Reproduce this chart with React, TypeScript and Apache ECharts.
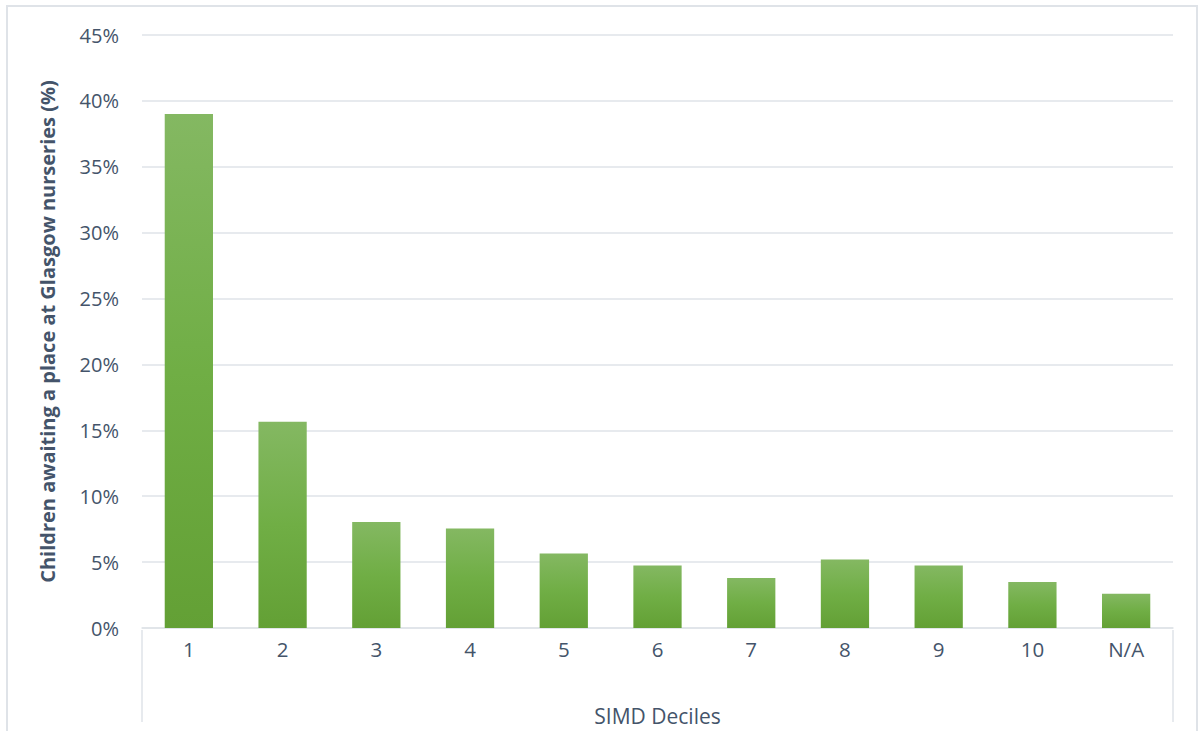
import React, { useEffect, useRef } from "react";
import * as echarts from "echarts";

const categories = ["1", "2", "3", "4", "5", "6", "7", "8", "9", "10", "N/A"];
const values = [39.0, 15.65, 8.05, 7.55, 5.65, 4.75, 3.8, 5.2, 4.75, 3.5, 2.6];
const yTicks = { min: 0, max: 45, interval: 5 };

const TEXT = "#44546a";
const GRID = "#dfe3e8";

export default function App() {
  const ref = useRef<HTMLDivElement>(null);
  useEffect(() => {
    const chart = echarts.init(ref.current!, undefined, { renderer: "svg" });
    const L = 142, R = 1173, T = 35, B = 630;
    chart.setOption({
      animation: false,
      textStyle: { fontFamily: "Open Sans" },
      grid: { left: L, top: T, width: R - L, height: B - T },
      xAxis: {
        type: "category",
        data: categories,
        name: "SIMD Deciles",
        nameLocation: "middle",
        nameGap: 77,
        nameTextStyle: { color: TEXT, fontSize: 21, fontFamily: "Open Sans" },
        axisLine: { show: true, lineStyle: { color: GRID, width: 1.5 } },
        axisTick: { show: false },
        axisLabel: { color: TEXT, fontSize: 20.5, margin: 10, fontFamily: "Open Sans" },
      },
      yAxis: {
        type: "value",
        min: yTicks.min,
        max: yTicks.max,
        interval: yTicks.interval,
        name: "Children awaiting a place at Glasgow nurseries (%)",
        nameLocation: "middle",
        nameGap: 85,
        nameTextStyle: { color: TEXT, fontSize: 20, fontWeight: "bold", fontFamily: "Open Sans" },
        axisLine: { show: false },
        axisTick: { show: false },
        axisLabel: { color: TEXT, fontSize: 20, margin: 23, formatter: "{value}%", fontFamily: "Open Sans" },
        splitLine: { lineStyle: { color: GRID, width: 1.5 } },
      },
      series: [
        {
          type: "bar",
          data: values,
          barWidth: "51.5%",
          itemStyle: {
            color: new echarts.graphic.LinearGradient(0, 0, 0, 1, [
              { offset: 0, color: "#84b862" },
              { offset: 0.5, color: "#70ae45" },
              { offset: 1, color: "#63a035" },
            ]),
          },
        },
      ],
      graphic: [
        { type: "rect", shape: { x: 7, y: 6, width: 1190, height: 740 }, style: { fill: "none", stroke: GRID, lineWidth: 2 }, silent: true },
        { type: "line", shape: { x1: L, y1: B, x2: L, y2: 722 }, style: { stroke: GRID, lineWidth: 1.5 } },
        { type: "line", shape: { x1: R, y1: B, x2: R, y2: 722 }, style: { stroke: GRID, lineWidth: 1.5 } },
      ],
    });
    return () => chart.dispose();
  }, []);
  return <div ref={ref} style={{ position: "absolute", left: 0, top: 0, width: 1199, height: 731, background: "#fff" }} />;
}
